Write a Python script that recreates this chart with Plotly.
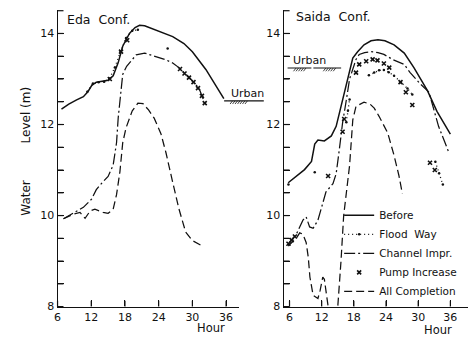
import plotly.graph_objects as go

# ---------------- data ----------------
# Eda Conf. (left panel)
eda_before_h = [6.7, 8.0, 9.4, 10.6, 11.4, 12.1, 12.9, 14.0, 15.0, 15.9, 16.8, 17.6, 18.8, 19.8, 20.6, 21.5, 23.5, 26.5, 28.5, 30.0, 32.4, 34.1, 35.6]
eda_before_v = [12.34, 12.45, 12.54, 12.61, 12.72, 12.86, 12.93, 12.95, 12.97, 13.07, 13.36, 13.72, 14.0, 14.13, 14.18, 14.17, 14.07, 13.93, 13.78, 13.6, 13.21, 12.86, 12.57]

eda_flood_h = [11.3, 12.3, 13.3, 14.3, 15.2, 16.2, 17.2, 18.2, 19.3, 20.3, None, 25.6]
eda_flood_v = [12.72, 12.9, 12.93, 12.94, 13.0, 13.25, 13.6, 13.9, 14.06, 14.08, None, 13.67]

eda_chan_h = [7.06, 8.8, 10.6, 12.05, 12.9, 14.0, 15.0, 15.9, 16.5, 16.8, 17.2, 17.6, 18.3, 19.2, 20.0, 21.5, 23.5, 25.3, 26.5, 27.6, 29.4, 31.2, 32.1]
eda_chan_v = [9.93, 10.06, 10.18, 10.36, 10.57, 10.73, 10.86, 11.11, 11.6, 12.15, 12.7, 13.1, 13.28, 13.42, 13.53, 13.57, 13.49, 13.42, 13.35, 13.25, 13.04, 12.79, 12.5]

eda_pump_h = [15.3, 17.3, 18.4, 27.8, 28.6, 29.4, 30.2, 31.0, 31.7, 32.2]
eda_pump_v = [13.0, 13.6, 13.85, 13.22, 13.12, 13.03, 12.93, 12.8, 12.63, 12.47]

eda_all_h = [7.06, 8.8, 10.0, 10.9, 11.8, 12.65, 14.1, 15.0, 15.9, 16.5, 17.1, 17.6, 18.2, 19.3, 20.3, 21.2, 22.2, 23.2, 24.4, 25.3, 26.5, 27.6, 28.8, 30.0, 31.8]
eda_all_v = [9.93, 10.03, 10.07, 9.94, 10.1, 10.14, 10.07, 10.05, 10.14, 10.46, 10.96, 11.6, 11.93, 12.3, 12.47, 12.46, 12.32, 12.14, 11.8, 11.38, 10.73, 10.15, 9.64, 9.45, 9.33]

# Saida Conf. (right panel)
saida_before_h = [5.75, 7.3, 8.8, 10.1, 10.7, 11.3, 12.5, 13.8, 14.7, 15.3, 15.9, 16.6, 17.8, 18.7, 19.9, 21.2, 22.5, 23.8, 25.5, 27.4, 29.2, 31.7, 33.5, 36.0]
saida_before_v = [10.72, 10.87, 11.01, 11.19, 11.57, 11.66, 11.64, 11.75, 11.96, 12.25, 12.54, 12.89, 13.46, 13.6, 13.75, 13.84, 13.86, 13.84, 13.75, 13.57, 13.25, 12.75, 12.29, 11.79]

saida_flood_h = [5.8, None, 10.7, None, 16.6, 16.9, 17.2, None, 20.8, 21.8, 22.7, 23.6, 24.5, 25.5, 26.7, 28.0, 28.9, None, 33.2, 33.9, 34.6]
saida_flood_v = [10.68, None, 10.95, None, 12.05, 12.3, 12.55, None, 13.08, 13.14, 13.19, 13.2, 13.15, 13.07, 12.93, 12.79, 12.66, None, 11.18, 10.93, 10.68]

saida_chan_h = [5.75, 7.3, 8.5, 9.1, 9.75, 10.4, 11.3, 12.0, 12.8, 14.1, 14.7, 15.3, 15.9, 16.6, 17.2, 18.4, 19.0, 20.0, 21.2, 22.5, 23.6, 25.2, 27.4, 28.5, 30.4, 32.0, 33.8, 35.7]
saida_chan_v = [9.37, 9.6, 9.9, 9.97, 9.75, 9.72, 9.9, 10.2, 10.52, 10.7, 10.92, 11.46, 12.04, 12.54, 13.0, 13.43, 13.54, 13.58, 13.6, 13.58, 13.54, 13.43, 13.32, 13.14, 12.89, 12.71, 11.96, 11.39]

saida_pump_h = [5.8, 6.4, 7.0, 13.2, 15.9, 16.2, 18.4, 19.0, 20.3, 21.5, 22.4, 23.6, 24.6, 26.7, 27.7, 28.9, 32.2, 33.1]
saida_pump_v = [9.38, 9.46, 9.54, 10.87, 11.84, 12.12, 13.14, 13.32, 13.39, 13.43, 13.41, 13.34, 13.25, 12.93, 12.71, 12.43, 11.16, 11.0]

saida_all_h = [5.75, 7.3, 7.9, 8.5, 9.1, 9.5, 9.8, 10.4, 11.3, 11.7, 12.2, 12.5, 12.85, 13.15, 13.8, 14.5, 15.0, 15.6, 16.1, 17.2, 17.8, 18.4, 19.9, 21.0, 21.8, 22.7, 24.3, 25.5, 26.4, 27.05]
saida_all_v = [9.33, 9.51, 9.62, 9.59, 9.41, 9.08, 8.65, 8.25, 8.18, 8.35, 8.65, 8.6, 8.3, 8.0, 7.5, 7.5, 8.0, 9.0, 10.0, 11.1, 12.1, 12.4, 12.49, 12.45, 12.36, 12.18, 11.82, 11.32, 10.88, 10.48]

urban_eda = 12.52
urban_saida = 13.24

hour_ticks = [6, 12, 18, 24, 30, 36]
level_tickvals = [8, 8.5, 9, 9.5, 10, 10.5, 11, 11.5, 12, 12.5, 13, 13.5, 14, 14.5]
level_ticktext = ["8", "", "", "", "10", "", "", "", "12", "", "", "", "14", ""]
series_names = ["Before", "Flood  Way", "Channel Impr.", "Pump Increase", "All Completion"]

# ---------------- figure ----------------
INK = "#111111"
FONT = "DejaVu Sans"
W, H = 475, 343

fig = go.Figure()

styles = {
    "Before": dict(mode="lines", line=dict(color=INK, width=1.5)),
    "Flood  Way": dict(mode="lines+markers", line=dict(color=INK, width=1.3, dash="1px,3px"),
                       marker=dict(size=2.5, color=INK)),
    "Channel Impr.": dict(mode="lines", line=dict(color=INK, width=1.25, dash="11px,3px,2px,3px")),
    "Pump Increase": dict(mode="markers", marker=dict(symbol="x-thin", size=4,
                                                      line=dict(color=INK, width=1.6), color=INK)),
    "All Completion": dict(mode="lines", line=dict(color=INK, width=1.25, dash="8px,4px")),
}
left_data = {
    "Before": (eda_before_h, eda_before_v),
    "Flood  Way": (eda_flood_h, eda_flood_v),
    "Channel Impr.": (eda_chan_h, eda_chan_v),
    "Pump Increase": (eda_pump_h, eda_pump_v),
    "All Completion": (eda_all_h, eda_all_v),
}
right_data = {
    "Before": (saida_before_h, saida_before_v),
    "Flood  Way": (saida_flood_h, saida_flood_v),
    "Channel Impr.": (saida_chan_h, saida_chan_v),
    "Pump Increase": (saida_pump_h, saida_pump_v),
    "All Completion": (saida_all_h, saida_all_v),
}

for name in series_names:
    hx, vy = right_data[name]
    fig.add_trace(go.Scatter(x=hx, y=vy, name=name, legendgroup=name, showlegend=True,
                             xaxis="x2", yaxis="y2", connectgaps=False, **styles[name]))
    hx, vy = left_data[name]
    fig.add_trace(go.Scatter(x=hx, y=vy, name=name, legendgroup=name, showlegend=False,
                             xaxis="x", yaxis="y", connectgaps=False, **styles[name]))

Y_RANGE = [8, 14.52]
XL_RANGE = [6, 38.3]
XR_RANGE = [4.9, 39.3]
Y_BOT, Y_TOP = 313, 10          # pixel rows of the plot area
XL_PIX = [54, 237]              # pixel columns of left plot area
XR_PIX = [282, 468]             # pixel columns of right plot area
ydom = [1 - Y_BOT / H, 1 - Y_TOP / H]
xdom_left = [XL_PIX[0] / W, XL_PIX[1] / W]
xdom_right = [XR_PIX[0] / W, XR_PIX[1] / W]


def make_axis(**kw):
    ax = dict(showline=True, linecolor=INK, linewidth=1.3, showgrid=False, zeroline=False,
              ticks="inside", ticklen=6, tickwidth=1.2, tickcolor=INK,
              tickfont=dict(family=FONT, size=11, color=INK))
    ax.update(kw)
    return ax


fig.update_layout(
    width=W, height=H, margin=dict(l=0, r=0, t=0, b=0),
    paper_bgcolor="white", plot_bgcolor="white",
    font=dict(family=FONT, color=INK),
    xaxis=make_axis(domain=xdom_left, range=XL_RANGE, anchor="y",
                    tickmode="array", tickvals=hour_ticks),
    yaxis=make_axis(domain=ydom, range=Y_RANGE, anchor="x", tickmode="array",
                    tickvals=level_tickvals, ticktext=level_ticktext),
    xaxis2=make_axis(domain=xdom_right, range=XR_RANGE, anchor="y2",
                     tickmode="array", tickvals=hour_ticks),
    yaxis2=make_axis(domain=ydom, range=Y_RANGE, anchor="x2", tickmode="array",
                     tickvals=level_tickvals, ticktext=level_ticktext),
    legend=dict(x=338 / W, y=1 - 205 / H, xanchor="left", yanchor="top",
                bgcolor="rgba(0,0,0,0)", font=dict(family=FONT, size=10.5, color=INK),
                itemwidth=30, tracegroupgap=0),
)

def px(xp):
    return xp / W

def py(yp):
    return 1 - yp / H

annotations = [
    dict(text="Eda  Conf.", x=px(62), y=py(20), xanchor="left", yanchor="middle", font=dict(size=12.5)),
    dict(text="Saida  Conf.", x=px(292), y=py(17), xanchor="left", yanchor="middle", font=dict(size=12.5)),
    dict(text="Water", x=px(22), y=py(202), textangle=-90, xanchor="center", yanchor="middle", font=dict(size=12)),
    dict(text="Level (m)", x=px(22), y=py(117), textangle=-90, xanchor="center", yanchor="middle", font=dict(size=12)),
    dict(text="Hour", x=px(209), y=py(335), xanchor="center", yanchor="middle", font=dict(size=11.5)),
    dict(text="Hour", x=px(438), y=py(337), xanchor="center", yanchor="middle", font=dict(size=11.5)),
]
for a in annotations:
    a.update(xref="paper", yref="paper", showarrow=False)
    a["font"] = dict(family=FONT, color=INK, **a["font"])

# Urban marks (ground level) — text + line with hatching
annotations.append(dict(text="Urban", xref="paper", yref="y", x=px(227), y=urban_eda, yshift=7,
                        xanchor="left", yanchor="middle", showarrow=False,
                        font=dict(family=FONT, size=11, color=INK)))
annotations.append(dict(text="Urban", xref="paper", yref="y2", x=px(289), y=urban_saida, yshift=8,
                        xanchor="left", yanchor="middle", showarrow=False,
                        font=dict(family=FONT, size=11, color=INK)))
fig.update_layout(annotations=annotations)

shapes = []

# explicit inward tick marks, placed in paper space from the axis ranges
TICK_PX = 6


def ypix(v):
    return Y_BOT - (v - Y_RANGE[0]) / (Y_RANGE[1] - Y_RANGE[0]) * (Y_BOT - Y_TOP)


for xr, xpix in ((XL_RANGE, XL_PIX), (XR_RANGE, XR_PIX)):
    for v in level_tickvals:
        yp = ypix(v)
        shapes.append(dict(type="line", xref="paper", yref="paper",
                           x0=px(xpix[0]), x1=px(xpix[0] + TICK_PX), y0=py(yp), y1=py(yp),
                           line=dict(color=INK, width=1.2), layer="above"))
    for h in hour_ticks:
        xp = xpix[0] + (h - xr[0]) / (xr[1] - xr[0]) * (xpix[1] - xpix[0])
        shapes.append(dict(type="line", xref="paper", yref="paper",
                           x0=px(xp), x1=px(xp), y0=py(Y_BOT), y1=py(Y_BOT - TICK_PX),
                           line=dict(color=INK, width=1.2), layer="above"))


def ground(yref, yval, x0p, x1p, hatch_ranges):
    shapes.append(dict(type="line", xref="paper", yref=yref, x0=px(x0p), x1=px(x1p), y0=yval, y1=yval,
                       line=dict(color=INK, width=1.1)))
    for (a, b) in hatch_ranges:
        xp = a
        while xp <= b:
            shapes.append(dict(type="line", xref="paper", yref=yref, x0=px(xp), x1=px(xp + 2.5),
                               y0=yval - 0.07, y1=yval, line=dict(color=INK, width=0.8)))
            xp += 2.5

ground("y", urban_eda, 222, 262, [(228, 244)])
ground("y2", urban_saida, 286, 310, [(292, 304)])
ground("y2", urban_saida, 312, 340, [(322, 334)])
fig.update_layout(shapes=shapes)

fig.write_html("out.html")
